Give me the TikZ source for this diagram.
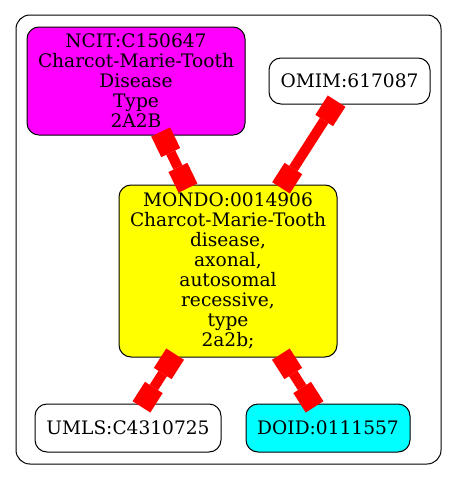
\documentclass[tikz,border=0pt]{standalone}
\usepackage{fontspec}
\setmainfont{DejaVu Serif}
\usetikzlibrary{arrows.meta}
\definecolor{gvmagenta}{RGB}{255,0,255}
\definecolor{gvyellow}{RGB}{255,255,0}
\definecolor{gvcyan}{RGB}{0,255,255}
\definecolor{gvred}{RGB}{255,0,0}
\begin{document}
\begin{tikzpicture}[x=1pt,y=-1pt,
  termbox/.style={draw=black, line width=1pt, rounded corners=12pt, align=center,
    font=\fontsize{18.6}{20}\selectfont, inner sep=0pt},
  sq/.tip={Square[length=23pt,width=21pt,line width=0pt]},
  link/.style={draw=gvred, line width=10pt, sq-sq, shorten <=-4pt, shorten >=-4pt}]
\useasboundingbox (0,0) rectangle (456,479);
\draw[line width=1pt, rounded corners=14pt] (16,15) rectangle (441,464);
\node[termbox, fill=gvmagenta, minimum width=218pt, minimum height=108pt] (ncit) at (136,81)
  {NCIT:C150647\\Charcot-Marie-Tooth\\Disease\\Type\\2A2B};
\node[termbox, fill=white, minimum width=161pt, minimum height=46pt] (omim) at (349.5,81) {OMIM:617087};
\node[termbox, fill=gvyellow, minimum width=218pt, minimum height=172pt] (mondo) at (228,271)
  {MONDO:0014906\\Charcot-Marie-Tooth\\disease,\\axonal,\\autosomal\\recessive,\\type\\2a2b;};
\node[termbox, fill=white, minimum width=186pt, minimum height=48pt] (umls) at (128,428) {UMLS:C4310725};
\node[termbox, fill=gvcyan, minimum width=164pt, minimum height=48pt] (doid) at (328,428) {DOID:0111557};
\draw[link] (ncit) -- (mondo);
\draw[link] (omim) -- (mondo);
\draw[link] (mondo) -- (umls);
\draw[link] (mondo) -- (doid);
\end{tikzpicture}
\end{document}
